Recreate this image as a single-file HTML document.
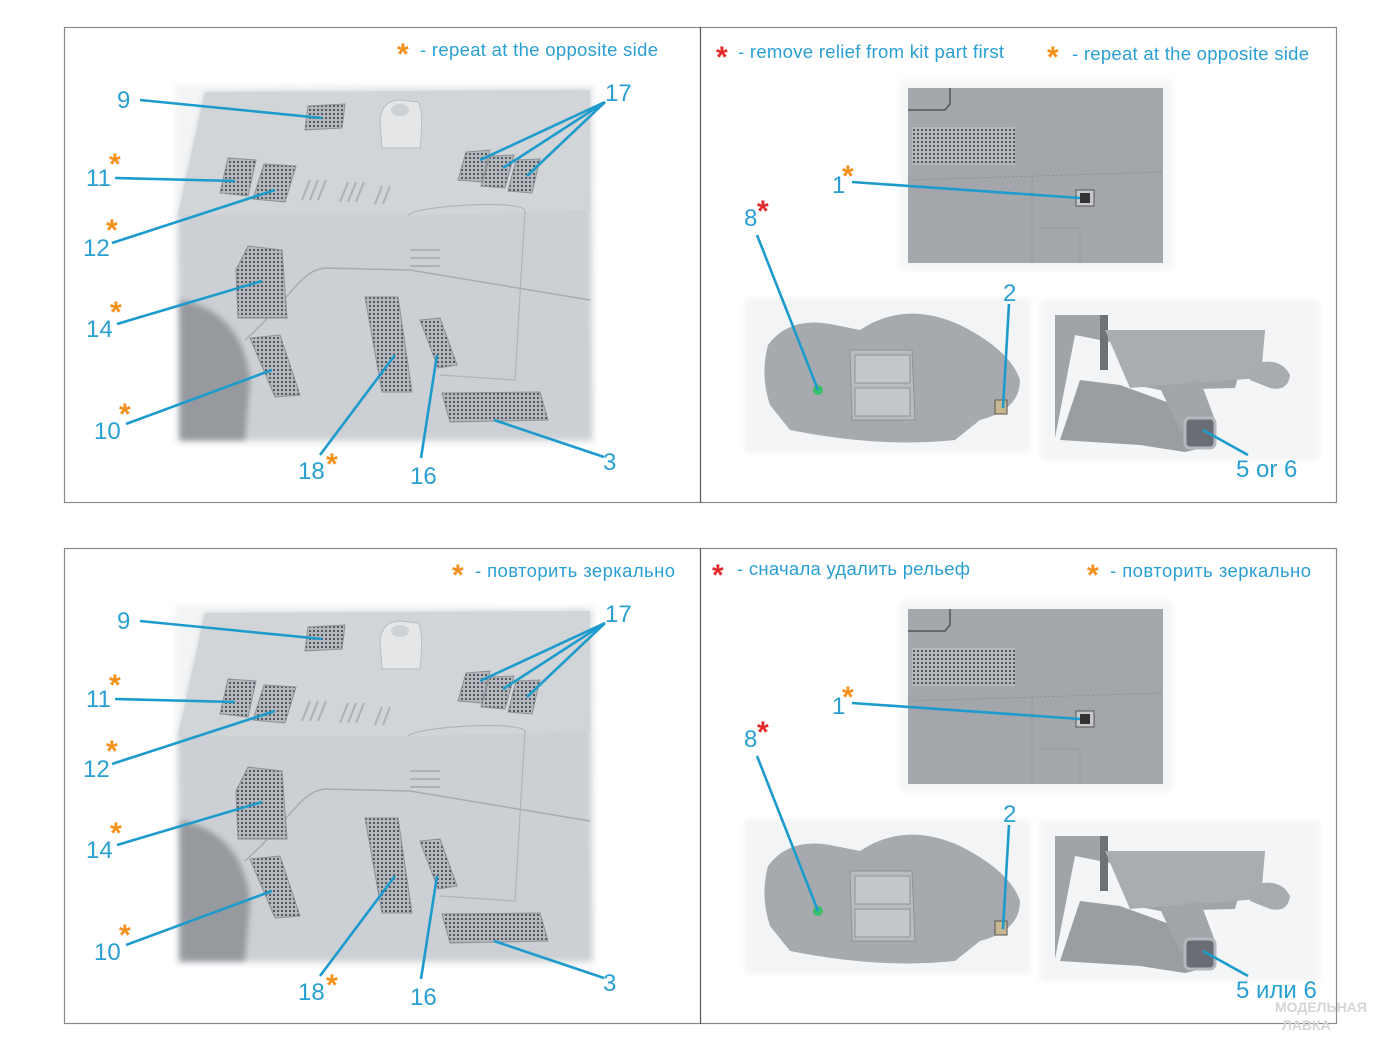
<!DOCTYPE html>
<html><head><meta charset="utf-8"><style>
html,body{margin:0;padding:0;background:#fff;}
svg{display:block;}
text{font-family:"Liberation Sans","Noto Sans CJK SC",sans-serif;}
.n{fill:#2a9fd2;font-size:24px;}
.h{fill:#2a9fd2;font-size:18.5px;}
.so{fill:#f39019;font-size:30px;font-weight:bold;}
.sr{fill:#e32a2a;font-size:30px;font-weight:bold;}
.l{stroke:#1d9bcc;stroke-width:2.6;fill:none;}
</style></head><body>
<svg width="1400" height="1050" viewBox="0 0 1400 1050" xmlns="http://www.w3.org/2000/svg">
<defs>
<pattern id="mesh" width="4" height="4" patternUnits="userSpaceOnUse">
<rect width="4" height="4" fill="#b4b7bc"/><rect x="1" y="1" width="2" height="2" fill="#55585e"/>
</pattern>
<filter id="bl"><feGaussianBlur stdDeviation="3"/></filter>
<g id="art">
<!-- frame -->
<rect x="64.5" y="27.5" width="1272" height="475" fill="#fff" stroke="#8a8a8a" stroke-width="1.2"/>
<line x1="700.5" y1="27" x2="700.5" y2="503" stroke="#555" stroke-width="1.2"/>
<!-- left fuselage -->
<rect x="175" y="85" width="420" height="360" fill="#f3f4f5" filter="url(#bl)"/>
<path d="M205,92 L590,90 L592,440 L180,440 L178,215 Z" fill="#ccd0d4" filter="url(#bl)"/>
<path d="M205,92 L590,90 L590,210 L420,215 L178,215 Z" fill="#d2d5d8"/>
<path d="M180,300 C215,305 245,330 250,380 L245,440 L180,440 Z" fill="#969a9f" filter="url(#bl)"/>
<path d="M245,340 C290,300 300,270 325,268 L410,270 L590,300" stroke="#a8acb0" stroke-width="1.5" fill="none"/>
<path d="M408,215 C420,205 520,200 525,210 L515,380 L440,375" stroke="#b0b4b8" stroke-width="1.2" fill="none"/>
<!-- hump -->
<path d="M380,120 Q382,100 400,100 L418,102 Q424,110 420,148 L382,148 Z" fill="#e4e6e8" stroke="#b9bcc0"/>
<ellipse cx="400" cy="110" rx="9" ry="6" fill="#cfd2d5"/>
<!-- slits -->
<g stroke="#aeb2b6" stroke-width="2">
<line x1="302" y1="200" x2="310" y2="180"/><line x1="310" y1="200" x2="318" y2="180"/><line x1="318" y1="200" x2="326" y2="180"/>
<line x1="340" y1="202" x2="348" y2="182"/><line x1="348" y1="202" x2="356" y2="182"/><line x1="356" y1="202" x2="364" y2="182"/>
<line x1="375" y1="204" x2="382" y2="186"/><line x1="383" y1="204" x2="390" y2="186"/>
<line x1="410" y1="250" x2="440" y2="250"/><line x1="410" y1="258" x2="440" y2="258"/><line x1="410" y1="266" x2="440" y2="266"/>
</g>
<!-- vents -->
<g fill="url(#mesh)" stroke="#8d9096" stroke-width="1">
<polygon points="308,106 345,104 342,128 305,130"/>
<polygon points="228,158 256,160 248,196 220,193"/>
<polygon points="264,164 296,166 285,202 253,199"/>
<polygon points="466,152 490,150 482,182 458,180"/>
<polygon points="490,156 514,155 505,188 481,186"/>
<polygon points="516,160 540,159 532,193 508,191"/>
<polygon points="248,246 282,250 287,318 238,318 236,270"/>
<polygon points="250,338 280,335 300,395 275,397"/>
<polygon points="365,297 398,297 412,392 382,392"/>
<polygon points="420,320 440,318 457,365 438,368"/>
<polygon points="442,393 540,392 548,420 450,422"/>
</g>
<!-- right top image -->
<rect x="900" y="80" width="272" height="190" fill="#f4f5f6" filter="url(#bl)"/>
<rect x="908" y="88" width="255" height="175" fill="#a3a7ab"/>
<path d="M908,110 L945,110 L950,104 L950,88" stroke="#555" stroke-width="1.5" fill="none"/>
<rect x="912" y="127" width="103" height="38" fill="url(#mesh)"/>
<path d="M908,180 L1162,172 M1032,172 L1032,262 M1040,228 L1080,228 L1080,262" stroke="#8e9296" stroke-width="1" fill="none" stroke-dasharray="2,2"/>
<rect x="1076" y="190" width="18" height="16" fill="#c6c8cb" stroke="#555"/>
<rect x="1080" y="193" width="10" height="10" fill="#333"/>
<!-- nacelle -->
<rect x="745" y="298" width="285" height="155" fill="#f3f4f5" filter="url(#bl)"/>
<path d="M768,345 Q790,315 835,325 L860,330 Q905,300 960,325 Q1010,350 1020,380 Q1020,410 980,420 L955,440 Q880,448 790,430 L770,405 Q760,375 768,345 Z" fill="#a6aaae"/>
<path d="M850,350 L912,350 L915,420 L852,420 Z" fill="#b9bcbf" stroke="#8f9397"/>
<rect x="855" y="355" width="55" height="28" fill="#c4c7ca" stroke="#8f9397"/>
<rect x="855" y="388" width="55" height="28" fill="#c4c7ca" stroke="#8f9397"/>
<circle cx="818" cy="390" r="5" fill="#3bbf6a"/>
<rect x="995" y="400" width="12" height="14" fill="#c8b890" stroke="#555"/>
<!-- right bottom image -->
<rect x="1040" y="300" width="280" height="160" fill="#f4f5f6" filter="url(#bl)"/>
<path d="M1055,315 L1100,315 L1100,330 L1265,330 L1262,365 L1240,370 L1235,388 L1160,390 L1135,385 L1125,345 L1075,335 L1055,438 L1055,315 Z" fill="#a0a4a8"/>
<path d="M1100,315 L1108,315 L1108,370 L1100,370 Z" fill="#6e7276"/>
<path d="M1105,330 L1265,330 L1260,378 L1130,388 Z" fill="#a9adb1"/>
<path d="M1060,440 L1080,380 L1120,385 L1175,405 L1205,418 L1215,445 L1185,452 L1140,445 L1060,440 Z" fill="#9a9ea2"/>
<path d="M1160,388 L1200,380 L1215,420 L1180,430 Z" fill="#a2a6aa"/>
<path d="M1250,365 Q1280,355 1290,375 Q1288,392 1270,388 L1250,380 Z" fill="#a8acb0"/>
<rect x="1185" y="418" width="30" height="30" rx="5" fill="#6a6d73" stroke="#b4b7bc" stroke-width="3"/>
<!-- leaders -->
<g class="l">
<line x1="140" y1="100" x2="322" y2="118"/>
<line x1="115" y1="178" x2="235" y2="181"/>
<line x1="112" y1="243" x2="275" y2="190"/>
<line x1="117" y1="324" x2="262" y2="281"/>
<line x1="126" y1="424" x2="272" y2="370"/>
<line x1="320" y1="455" x2="395" y2="355"/>
<line x1="421" y1="458" x2="437" y2="355"/>
<line x1="604" y1="457" x2="494" y2="420"/>
<line x1="605" y1="102" x2="480" y2="160"/>
<line x1="605" y1="102" x2="503" y2="168"/>
<line x1="605" y1="102" x2="527" y2="176"/>
<line x1="852" y1="182" x2="1080" y2="198"/>
<line x1="757" y1="235" x2="818" y2="390"/>
<line x1="1009" y1="304" x2="1003" y2="408"/>
<line x1="1248" y1="455" x2="1203" y2="430"/>
</g>
</g>
</defs>
<use href="#art"/>
<use href="#art" y="521"/>

<!-- top text -->
<text class="so" x="397" y="64">*</text>
<text class="h" x="420" y="56" textLength="238">- repeat at the opposite side</text>
<text class="sr" x="716" y="67">*</text>
<text class="h" x="738" y="58" textLength="266">- remove relief from kit part first</text>
<text class="so" x="1047" y="67">*</text>
<text class="h" x="1072" y="60" textLength="237">- repeat at the opposite side</text>

<g>
<text class="n" x="117" y="108">9</text>
<text class="so" x="109" y="174">*</text><text class="n" x="86" y="186">11</text>
<text class="so" x="106" y="240">*</text><text class="n" x="83" y="256">12</text>
<text class="so" x="110" y="322">*</text><text class="n" x="86" y="337">14</text>
<text class="so" x="119" y="424">*</text><text class="n" x="94" y="439">10</text>
<text class="n" x="298" y="479">18</text><text class="so" x="326" y="474">*</text>
<text class="n" x="410" y="484">16</text>
<text class="n" x="603" y="470">3</text>
<text class="n" x="605" y="101">17</text>
<text class="n" x="832" y="193">1</text><text class="so" x="842" y="186">*</text>
<text class="n" x="744" y="226">8</text><text class="sr" x="757" y="221">*</text>
<text class="n" x="1003" y="301">2</text>
<text class="n" x="1236" y="477">5 or 6</text>
</g>

<!-- bottom text -->
<text class="so" x="452" y="585">*</text>
<text class="h" x="475" y="577" textLength="200">- повторить зеркально</text>
<text class="sr" x="712" y="585">*</text>
<text class="h" x="737" y="575" textLength="233">- сначала удалить рельеф</text>
<text class="so" x="1087" y="585">*</text>
<text class="h" x="1110" y="577" textLength="201">- повторить зеркально</text>

<g transform="translate(0,521)">
<text class="n" x="117" y="108">9</text>
<text class="so" x="109" y="174">*</text><text class="n" x="86" y="186">11</text>
<text class="so" x="106" y="240">*</text><text class="n" x="83" y="256">12</text>
<text class="so" x="110" y="322">*</text><text class="n" x="86" y="337">14</text>
<text class="so" x="119" y="424">*</text><text class="n" x="94" y="439">10</text>
<text class="n" x="298" y="479">18</text><text class="so" x="326" y="474">*</text>
<text class="n" x="410" y="484">16</text>
<text class="n" x="603" y="470">3</text>
<text class="n" x="605" y="101">17</text>
<text class="n" x="832" y="193">1</text><text class="so" x="842" y="186">*</text>
<text class="n" x="744" y="226">8</text><text class="sr" x="757" y="221">*</text>
<text class="n" x="1003" y="301">2</text>
<text class="n" x="1236" y="477">5 или 6</text>
</g>
<text x="1275" y="1012" fill="#d4d6d8" font-size="14" font-weight="bold">МОДЕЛЬНАЯ</text>
<text x="1282" y="1030" fill="#d4d6d8" font-size="14" font-weight="bold">ЛАВКА</text>
</svg>
</body></html>
